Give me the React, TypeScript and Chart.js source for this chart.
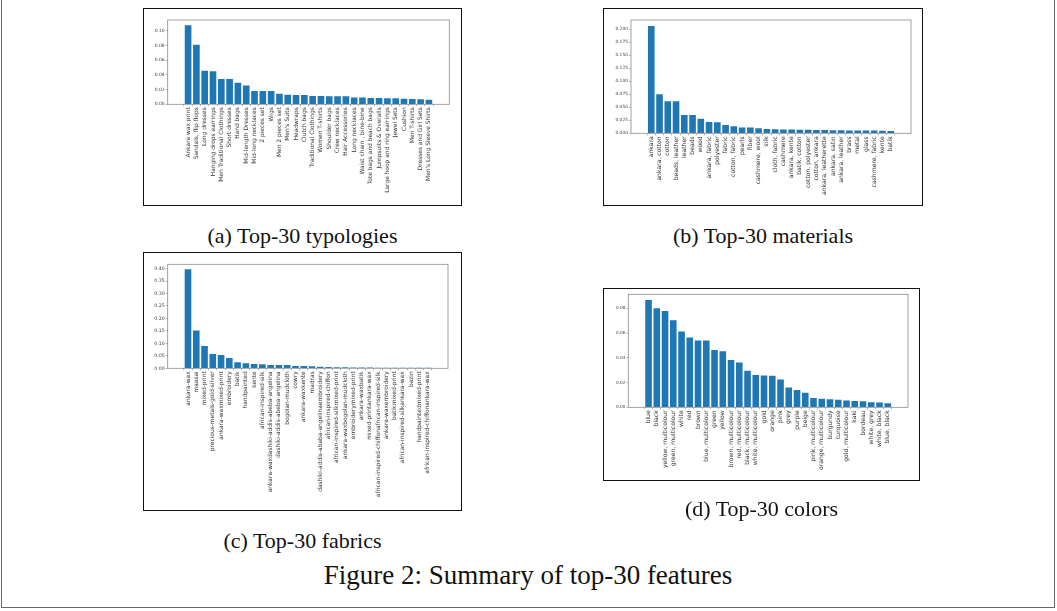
import React, { useEffect, useRef } from "react";
import { Chart, registerables } from "chart.js";

Chart.register(...registerables);

// ---------- DATA ----------
const typologyLabels = [
  "Ankara wax print", "Sandals, flip flops", "Long dresses", "Hanging drops earrings",
  "Men Traditional Clothings", "Short dresses", "Hand bags", "Mid-length Dresses",
  "Mid-long necklaces", "2 pieces set", "Wigs", "Men 2 pieces set", "Men's Suits",
  "Headwraps", "Clutch bags", "Traditional Clothings", "Women T-shirts", "Shoulder bags",
  "Crew necklaces", "Hair Accessories", "Long necklaces", "Waist chain , bine-bine",
  "Tote bags and beach bags", "Jumpsuits & Overalls", "Large hoop and ring earrings",
  "Jewel Sets", "Cushion", "Men T-shirts", "Dresses and Girl Sets", "Men's Long Sleeve Shirts",
];
const typologyValues = [
  0.1074, 0.0809, 0.0454, 0.0449, 0.0342, 0.0342, 0.0292, 0.0256, 0.018, 0.018,
  0.018, 0.0144, 0.013, 0.0126, 0.0126, 0.0112, 0.0112, 0.0108, 0.0108, 0.0108,
  0.0094, 0.0094, 0.0085, 0.0085, 0.0081, 0.0081, 0.0076, 0.0072, 0.0067, 0.0063,
];
const typologyTicks = [0, 0.02, 0.04, 0.06, 0.08, 0.1];

const materialLabels = [
  "ankara", "ankara, cotton", "cotton", "beads, leather", "leather", "beads", "wood",
  "ankara, fabric", "polyester", "fabric", "cotton, fabric", "pearls", "fiber",
  "cashmere, wool", "silk", "cloth, fabric", "cashmere", "ankara, kente", "batik, cotton",
  "cotton, polyester", "cotton, ankara", "ankara, leatherette", "ankara, satin",
  "ankara, leather", "brass", "metal", "glass", "cashmere, fabric", "kente", "batik",
];
const materialValues = [
  0.2064, 0.075, 0.0615, 0.0615, 0.0353, 0.0353, 0.0282, 0.0218, 0.0212, 0.016,
  0.0135, 0.011, 0.011, 0.0096, 0.0085, 0.008, 0.0075, 0.0072, 0.007, 0.0068,
  0.0065, 0.0062, 0.006, 0.0058, 0.0056, 0.0055, 0.0053, 0.0052, 0.0048, 0.0042,
];
const materialTicks = [0, 0.025, 0.05, 0.075, 0.1, 0.125, 0.15, 0.175, 0.2];

const fabricLabels = [
  "ankara-wax", "maasai", "mixed-print", "precious-metals-gold-silver", "ankara-waxmixed-print",
  "embroidery", "batik", "handpainted", "kente", "african-inspired-silk",
  "ankara-waxdashiki-addis-abeba-angelina", "dashiki-addis-abeba-angelina", "bogolan-mudcloth",
  "cowry", "ankara-waxkente", "madras", "dashiki-addis-ababa-angelinaembroidery",
  "african-inspired-chiffon", "african-inspired-silkmixed-print", "ankara-waxbogolan-mudcloth",
  "embroiderymixed-print", "ankara-waxbatik", "mixed-printankara-wax",
  "african-inspired-chiffonafrican-inspired-silk", "ankara-waxembroidery", "batikmixed-print",
  "african-inspired-silkankara-wax", "bazin", "handpaintedmixed-print",
  "african-inspired-chiffonankara-wax",
];
const fabricValues = [
  0.397, 0.152, 0.0896, 0.0575, 0.0535, 0.0414, 0.024, 0.02, 0.0174, 0.016,
  0.0134, 0.013, 0.013, 0.0094, 0.0094, 0.008, 0.0065, 0.0055, 0.0045, 0.004,
  0.0035, 0.003, 0.003, 0.0025, 0.0025, 0.0022, 0.002, 0.002, 0.0018, 0.0018,
];
const fabricTicks = [0, 0.05, 0.1, 0.15, 0.2, 0.25, 0.3, 0.35, 0.4];

const colorLabels = [
  "blue", "black", "yellow, multicolour", "green, multicolour", "white", "red", "brown",
  "blue, multicolour", "green", "yellow", "brown, multicolour", "red, multicolour",
  "black, multicolour", "white, multicolour", "gold", "orange", "pink", "grey", "purple",
  "beige", "pink, multicolour", "orange, multicolour", "burgundy", "turquoise",
  "gold, multicolour", "kaki", "bordeau", "white, grey", "white, black", "blue, black",
];
const colorValues = [
  0.0867, 0.08, 0.0779, 0.0703, 0.0612, 0.0563, 0.0539, 0.0539, 0.0463, 0.0453,
  0.0383, 0.0361, 0.0296, 0.0261, 0.0256, 0.0255, 0.0225, 0.016, 0.014, 0.0118,
  0.0075, 0.007, 0.0065, 0.006, 0.0055, 0.005, 0.0048, 0.004, 0.0038, 0.0033,
];
const colorTicks = [0, 0.02, 0.04, 0.06, 0.08];

const subCaptions = ["(a) Top-30 typologies", "(b) Top-30 materials", "(c) Top-30 fabrics", "(d) Top-30 colors"];
const figureCaption = "Figure 2: Summary of top-30 features";

// ---------- LAYOUT ----------
type Box = { x: number; y: number; w: number; h: number };
type Plot = { left: number; top: number; right: number; bottom: number };

const boxPlugin = {
  id: "axesBox",
  afterDraw(chart: any) {
    const { ctx, chartArea: a } = chart;
    ctx.save();
    ctx.strokeStyle = "#8a8a8a";
    ctx.lineWidth = 0.8;
    ctx.strokeRect(a.left, a.top, a.right - a.left, a.bottom - a.top);
    ctx.restore();
  },
};

function Panel(props: {
  frame: Box; plot: Plot; labels: string[]; values: number[]; ticks: number[];
  yMax: number; decimals: number; xFont: number; yFont: number;
}) {
  const ref = useRef<HTMLCanvasElement>(null);
  const { frame, plot, labels, values, ticks, yMax, decimals, xFont, yFont } = props;
  useEffect(() => {
    if (!ref.current) return;
    const n = labels.length;
    const dataMin = -0.4, dataMax = n - 1 + 0.4;
    const pad = (dataMax - dataMin) * 0.05;
    const chart = new Chart(ref.current, {
      type: "bar",
      data: {
        datasets: [{
          data: values.map((v, i) => ({ x: i, y: v })),
          backgroundColor: "#1f77b4",
          borderWidth: 0,
          categoryPercentage: 1,
          barPercentage: 0.8,
        }],
      },
      options: {
        responsive: false,
        animation: false,
        devicePixelRatio: 1,
        layout: {
          padding: {
            left: 0,
            top: plot.top - frame.y,
            right: frame.x + frame.w - plot.right,
            bottom: 0,
          },
        },
        plugins: { legend: { display: false }, tooltip: { enabled: false } },
        scales: {
          x: {
            type: "linear",
            min: dataMin - pad,
            max: dataMax + pad,
            afterBuildTicks: (s: any) => { s.ticks = labels.map((_, i) => ({ value: i })); },
            afterFit: (s: any) => { s.height = frame.y + frame.h - plot.bottom; },
            grid: { display: true, drawOnChartArea: false, drawTicks: true, tickLength: 2, color: "#8a8a8a", lineWidth: 0.6 },
            border: { display: false },
            ticks: {
              autoSkip: false, minRotation: 90, maxRotation: 90, padding: 1,
              font: { family: "DejaVu Sans", size: xFont }, color: "#333",
              callback: (_v: any, i: number) => labels[i],
            },
          },
          y: {
            type: "linear",
            min: 0,
            max: yMax,
            afterBuildTicks: (s: any) => { s.ticks = ticks.map((t) => ({ value: t })); },
            afterFit: (s: any) => { s.width = plot.left - frame.x; },
            grid: { display: true, drawOnChartArea: false, drawTicks: true, tickLength: 2, color: "#8a8a8a", lineWidth: 0.6 },
            border: { display: false },
            ticks: {
              padding: 1,
              font: { family: "DejaVu Sans", size: yFont }, color: "#444",
              callback: (v: any) => Number(v).toFixed(decimals),
            },
          },
        },
      },
      plugins: [boxPlugin],
    });
    return () => chart.destroy();
  }, []);
  return (
    <>
      <canvas
        ref={ref}
        width={frame.w}
        height={frame.h}
        style={{ position: "absolute", left: frame.x, top: frame.y, width: frame.w, height: frame.h }}
      />
      <div
        style={{
          position: "absolute", left: frame.x, top: frame.y, width: frame.w, height: frame.h,
          border: "1.3px solid #111", boxSizing: "border-box", pointerEvents: "none",
        }}
      />
    </>
  );
}

function Caption(props: { text: string; cx: number; cy: number; size: number }) {
  const w = 700;
  return (
    <div
      style={{
        position: "absolute", left: props.cx - w / 2, top: props.cy - 15, width: w, height: 30,
        lineHeight: "30px", textAlign: "center", fontFamily: "'Liberation Serif', serif",
        fontSize: props.size, color: "#111", whiteSpace: "nowrap",
      }}
    >
      {props.text}
    </div>
  );
}

export default function App() {
  const fa = { x: 143, y: 8, w: 319, h: 198 };
  const fb = { x: 603, y: 8, w: 320, h: 198 };
  const fc = { x: 143, y: 252, w: 319, h: 259 };
  const fd = { x: 603, y: 288, w: 317, h: 193 };
  return (
    <div style={{ position: "absolute", left: 0, top: 0, width: 1057, height: 611, background: "#fff", overflow: "hidden" }}>
      <div style={{ position: "absolute", left: 1, top: -2, width: 1054, height: 610, border: "1px solid #666", boxSizing: "border-box" }} />
      <Panel frame={fa} plot={{ left: 167.7, top: 20, right: 449.3, bottom: 104.3 }}
        labels={typologyLabels} values={typologyValues} ticks={typologyTicks}
        yMax={0.1145} decimals={2} xFont={5.9} yFont={4.5} />
      <Panel frame={fb} plot={{ left: 631, top: 20, right: 911, bottom: 133.3 }}
        labels={materialLabels} values={materialValues} ticks={materialTicks}
        yMax={0.2179} decimals={3} xFont={6.1} yFont={4.4} />
      <Panel frame={fc} plot={{ left: 167.7, top: 264.3, right: 448, bottom: 368.3 }}
        labels={fabricLabels} values={fabricValues} ticks={fabricTicks}
        yMax={0.4171} decimals={2} xFont={5.9} yFont={4.7} />
      <Panel frame={fd} plot={{ left: 628.3, top: 294.3, right: 908, bottom: 407.3 }}
        labels={colorLabels} values={colorValues} ticks={colorTicks}
        yMax={0.0913} decimals={2} xFont={6.1} yFont={4.2} />
      <Caption text={subCaptions[0]} cx={fa.x + fa.w / 2} cy={236} size={22} />
      <Caption text={subCaptions[1]} cx={fb.x + fb.w / 2} cy={236} size={22} />
      <Caption text={subCaptions[2]} cx={fc.x + fc.w / 2} cy={541} size={22} />
      <Caption text={subCaptions[3]} cx={fd.x + fd.w / 2} cy={509} size={22} />
      <Caption text={figureCaption} cx={528} cy={575} size={27} />
    </div>
  );
}
